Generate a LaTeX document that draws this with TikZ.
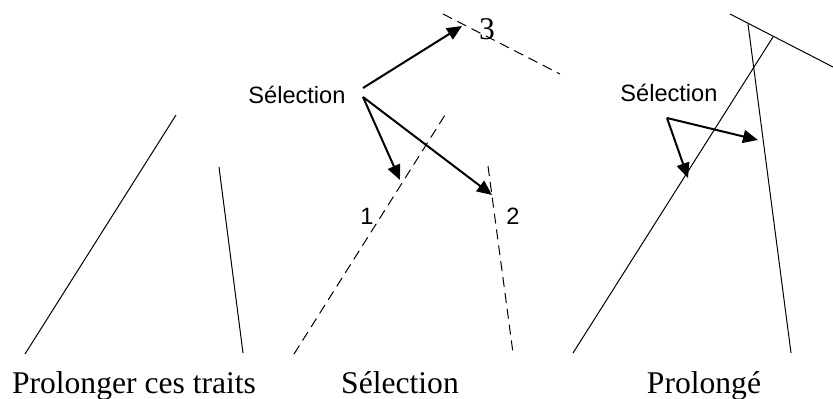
\documentclass[tikz,border=0pt]{standalone}
\usepackage{fontspec}
\setmainfont{Liberation Serif}
\setsansfont{Liberation Sans}
\usetikzlibrary{positioning,arrows.meta}
\tikzset{
  trait/.style={line width=0.5pt, draw=black},
  pointille/.style={line width=0.5pt, draw=black, dash pattern=on 5pt off 3pt},
  fleche/.style={-{Triangle[length=7.5pt,width=6.5pt]}, line width=1pt, draw=black},
  legende/.style={font=\fontsize{15.8}{18}\selectfont, anchor=base, inner sep=0pt},
  etiq/.style={font=\sffamily\fontsize{11.8}{14}\selectfont, anchor=base west, inner sep=0pt},
  num/.style={font=\sffamily\fontsize{11.8}{14}\selectfont, anchor=base, inner sep=0pt}
}
\begin{document}
\begin{tikzpicture}[x=0.5pt,y=-0.5pt]
\useasboundingbox (0,0) rectangle (833,398);
% traits de depart
\coordinate (g1a) at (25,354);  \coordinate (g1b) at (176,115);
\coordinate (g2a) at (219,167); \coordinate (g2b) at (243,353);
\draw[trait] (g1a) -- (g1b);
\draw[trait] (g2a) -- (g2b);
\node[legende] (cap1) at (134,393) {Prolonger ces traits};
% selection
\coordinate (m1a) at (294,354); \coordinate (m1b) at (445,115);
\coordinate (m2a) at (488,166); \coordinate (m2b) at (513,353);
\coordinate (m3a) at (443,14);  \coordinate (m3b) at (560,74);
\draw[pointille] (m1a) -- (m1b);
\draw[pointille] (m2a) -- (m2b);
\draw[pointille] (m3a) -- (m3b);
\node[etiq] (selm) at (248,103) {Sélection};
\coordinate (dm3) at (363,88); \coordinate (dm) at (363,97);
\coordinate (pm3) at (462,26); \coordinate (pm1) at (400,180); \coordinate (pm2) at (492,195);
\draw[fleche] (dm3) -- (pm3);
\draw[fleche] (dm) -- (pm1);
\draw[fleche] (dm) -- (pm2);
\node[num] (n1) at (367,224) {1};
\node[num] (n2) at (513,224) {2};
\node[legende] (n3) at (487,39) {3};
\node[legende] (cap2) at (400,393) {Sélection};
% prolonge
\coordinate (d1a) at (573,353); \coordinate (d1b) at (773,37);
\coordinate (d2a) at (748,24);  \coordinate (d2b) at (791,353);
\coordinate (d3a) at (730,14);  \coordinate (d3b) at (833,67);
\draw[trait] (d1a) -- (d1b);
\draw[trait] (d2a) -- (d2b);
\draw[trait] (d3a) -- (d3b);
\node[etiq] (seld) at (620,101) {Sélection};
\coordinate (dd) at (667,118);
\coordinate (pd1) at (688,178); \coordinate (pd2) at (758,140);
\draw[fleche] (dd) -- (pd1);
\draw[fleche] (dd) -- (pd2);
\node[legende] (cap3) at (704,393) {Prolongé};
\end{tikzpicture}
\end{document}
